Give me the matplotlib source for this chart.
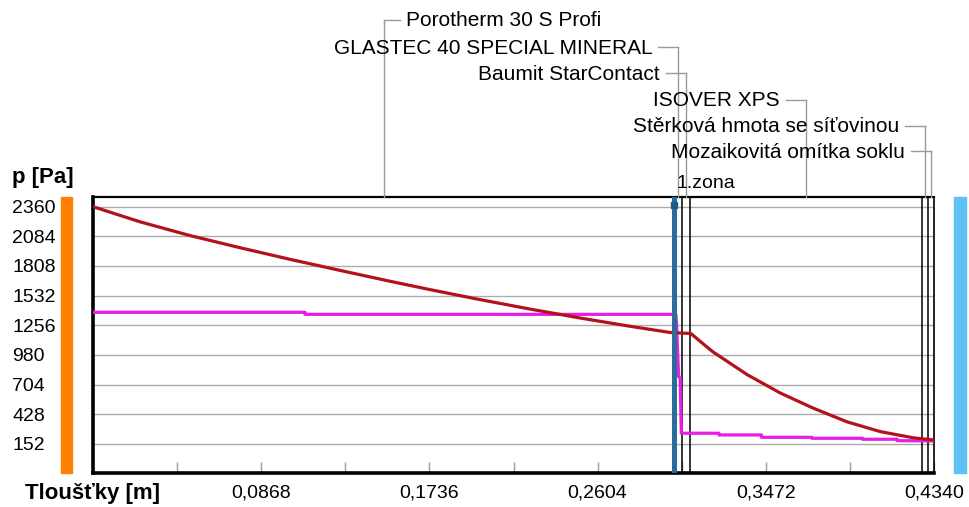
import numpy as np
import matplotlib
matplotlib.use('Agg')
import matplotlib.pyplot as plt
from matplotlib.patches import Rectangle

plt.rcParams['font.family'] = ['Liberation Sans', 'DejaVu Sans']

# composition of the wall, inside -> outside
layers = ['Porotherm 30 S Profi', 'GLASTEC 40 SPECIAL MINERAL', 'Baumit StarContact',
          'ISOVER XPS', 'Stěrková hmota se síťovinou', 'Mozaikovitá omítka soklu']
thickness = [0.300, 0.004, 0.004, 0.120, 0.003, 0.003]
label_rows = [20, 47, 73, 100, 126, 151]   # pixel row of each leader line

zone_name = '1.zona'
zone_x = 0.300

# saturated vapour pressure (red) and partial vapour pressure (magenta)
psat_x = [0, 0.0243, 0.0501, 0.0759, 0.1017, 0.1275, 0.1533, 0.174, 0.1998, 0.2256,
          0.2514, 0.2772, 0.298, 0.304, 0.3085, 0.312, 0.316, 0.320, 0.3376, 0.3547,
          0.3717, 0.3893, 0.4063, 0.4234, 0.434]
psat_y = [2360, 2219, 2091, 1978, 1870, 1767, 1666, 1588, 1495, 1407,
          1324, 1247, 1189, 1184, 1180, 1127, 1067, 1008, 797, 626,
          485, 357, 267, 209, 189]

p_x = [0, 0.1094, 0.1094, 0.3008, 0.3012, 0.3022, 0.3030, 0.3036, 0.3046,
       0.323, 0.323, 0.345, 0.345, 0.371, 0.371, 0.397, 0.397, 0.415, 0.415, 0.434]
p_y = [1377, 1377, 1358, 1358, 1250, 780, 760, 252, 252,
       252, 236, 236, 214, 214, 205, 205, 196, 196, 183, 180]

yticks = [152, 428, 704, 980, 1256, 1532, 1808, 2084, 2360]
xticks = [0.0434 * i for i in range(11)]
xlabels = ['' if i % 2 else ('%.4f' % t).replace('.', ',') for i, t in enumerate(xticks)]
xlabels[0] = ''

W, H = 969, 507
fig = plt.figure(figsize=(W / 100, H / 100), dpi=100)
ax = fig.add_axes([93 / W, (H - 473) / H, (934 - 93) / W, (473 - 197) / H])
ax.set_xlim(0, 0.434)
ax.set_ylim(-118, 2450)

ax.set_yticks(yticks)
ax.set_yticklabels([str(v) for v in yticks])
ax.tick_params(axis='y', length=0, pad=58, labelsize=14)
for lab in ax.get_yticklabels():
    lab.set_horizontalalignment('left')
ax.set_xticks(xticks)
ax.set_xticklabels(xlabels)
ax.tick_params(axis='x', direction='in', length=8, width=1, color='#9a9a9a', pad=8, labelsize=14)
ax.yaxis.grid(True, color='#ababab', lw=1)
ax.set_axisbelow(True)

for side, lw in [('left', 2.6), ('bottom', 2.6), ('top', 1.6), ('right', 1.2)]:
    ax.spines[side].set_linewidth(lw)
    ax.spines[side].set_color('black')

# layer boundaries
bounds = np.cumsum(thickness)
for b in bounds[1:-1]:
    ax.axvline(b, color='black', lw=1.1, zorder=3)

ax.plot(psat_x, psat_y, color='#b3121d', lw=2.3, zorder=5)
ax.plot(p_x, p_y, color='#e81ee6', lw=2.3, zorder=4)

# zone marker
ax.axvline(zone_x, color='#2b6c9c', lw=3.6, zorder=6)
ax.plot([zone_x], [2380], marker='s', ms=5, color='#1f5a88', zorder=7)

# leader lines with layer names above the plot
fig.canvas.draw()
top = 197
mids = bounds - np.array(thickness) / 2
lc = '#9a9a9a'
for i, (name, m, row) in enumerate(zip(layers, mids, label_rows)):
    px = ax.transData.transform((m, 0))[0]
    fig.add_artist(plt.Line2D([px / W, px / W], [1 - row / H, 1 - top / H], color=lc, lw=1))
    if i == 0:
        fig.add_artist(plt.Line2D([px / W, (px + 16) / W], [1 - row / H] * 2, color=lc, lw=1))
        fig.text((px + 22) / W, 1 - (row + 1) / H, name, ha='left', va='center', fontsize=15)
    else:
        fig.add_artist(plt.Line2D([(px - 20) / W, px / W], [1 - row / H] * 2, color=lc, lw=1))
        fig.text((px - 26) / W, 1 - (row + 1) / H, name, ha='right', va='center', fontsize=15)

zx = ax.transData.transform((zone_x, 0))[0]
fig.text((zx + 2) / W, 1 - 183 / H, zone_name, ha='left', va='center', fontsize=14)

# interior / exterior colour bars
fig.add_artist(Rectangle((61 / W, (H - 473) / H), 11 / W, 276 / H,
                         transform=fig.transFigure, color='#ff8000'))
fig.add_artist(Rectangle((954 / W, (H - 473) / H), 12 / W, 276 / H,
                         transform=fig.transFigure, color='#5ec2f5'))

fig.text(12 / W, 1 - 177 / H, 'p [Pa]', ha='left', va='center', fontsize=16, fontweight='bold')
fig.text(25 / W, 1 - 494 / H, 'Tloušťky [m]', ha='left', va='center', fontsize=16, fontweight='bold')

fig.savefig('out.png', dpi=100)
